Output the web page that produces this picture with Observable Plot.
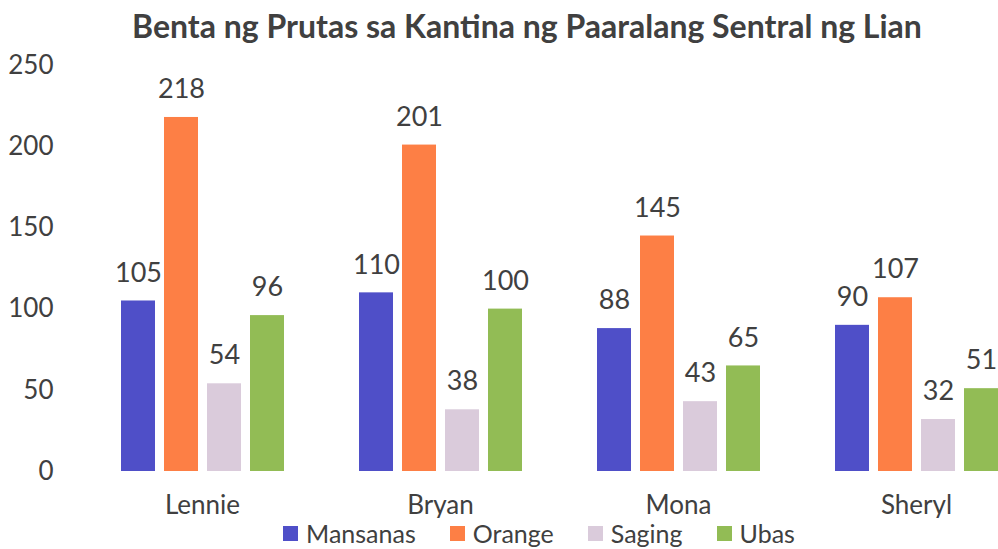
<!DOCTYPE html>
<html>
<head>
<meta charset="utf-8">
<script src="https://cdn.jsdelivr.net/npm/d3@7"></script>
<script src="https://cdn.jsdelivr.net/npm/@observablehq/plot@0.6"></script>
<style>
  html, body { margin: 0; padding: 0; background: #fff; overflow: hidden; width: 998px; height: 549px; }
  #title { height: 48px; line-height: 52px; font-family: Lato, "Open Sans", sans-serif; font-weight: bold; font-size: 32px; color: #404040; text-align: center; padding-left: 56px; box-sizing: border-box; width: 998px; white-space: nowrap; }
  #chart { width: 998px; overflow: hidden; height: 470px; }
  #legend { display: flex; justify-content: center; align-items: center; gap: 34px; font-family: Lato, "Open Sans", sans-serif; font-size: 25px; line-height: 30px; color: #404040; height: 30px; padding-left: 80px; box-sizing: border-box; width: 998px; }
  #legend span.sw { display: inline-block; width: 15px; height: 15px; margin-right: 8px; }
  #legend .item { display: flex; align-items: center; }
</style>
</head>
<body>
<div id="title">Benta ng Prutas sa Kantina ng Paaralang Sentral ng Lian</div>
<div id="chart"></div>
<div id="legend"></div>
<script>
const names = ["Lennie", "Bryan", "Mona", "Sheryl"];
const fruits = ["Mansanas", "Orange", "Saging", "Ubas"];
const mansanas = [105, 110, 88, 90];
const orange = [218, 201, 145, 107];
const saging = [54, 38, 43, 32];
const ubas = [96, 100, 65, 51];
const yTicks = [0, 50, 100, 150, 200, 250];
const colors = ["#4f4fc8", "#fd7f45", "#dacbdb", "#92bc55"];

const series = [mansanas, orange, saging, ubas];
const data = [];
names.forEach((n, i) => fruits.forEach((f, j) => data.push({name: n, fruit: f, value: series[j][i]})));

const plot = Plot.plot({
  width: 1035,
  height: 470,
  marginTop: 17,
  marginBottom: 47,
  marginLeft: 83,
  marginRight: 0,
  style: {fontFamily: "Lato, 'Open Sans', sans-serif", fontSize: "26px", color: "#404040", background: "#fff", maxWidth: "none"},
  fx: {domain: names, padding: 0, label: null, axis: null},
  x: {domain: fruits, paddingInner: 0.215, paddingOuter: 0.86, axis: null},
  y: {domain: [0, 250], ticks: yTicks, tickSize: 0, tickPadding: 30, label: null},
  color: {domain: fruits, range: colors},
  marks: [
    Plot.barY(data, {fx: "name", x: "fruit", y: "value", fill: "fruit"}),
    Plot.text(data, {fx: "name", x: "fruit", y: "value", text: d => String(d.value), dy: -28, fill: "#404040", fontSize: 27}),
    Plot.text(names, {fx: d => d, frameAnchor: "bottom", text: d => d, dy: 42, fill: "#404040", fontSize: 26})
  ]
});
plot.style.overflow = "visible";
plot.style.maxWidth = "none";
document.getElementById("chart").appendChild(plot);

const leg = document.getElementById("legend");
fruits.forEach((f, j) => {
  const it = document.createElement("div");
  it.className = "item";
  it.innerHTML = `<span class="sw" style="background:${colors[j]}"></span>${f}`;
  leg.appendChild(it);
});
</script>
</body>
</html>
